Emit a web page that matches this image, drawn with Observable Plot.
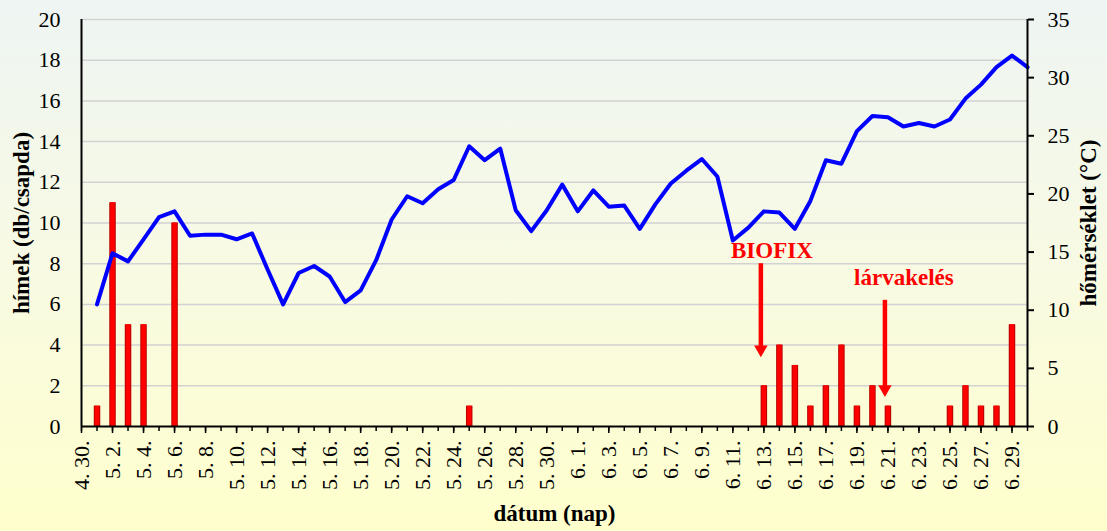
<!DOCTYPE html>
<html><head><meta charset="utf-8">
<script src="https://cdn.jsdelivr.net/npm/d3@7"></script>
<script src="https://cdn.jsdelivr.net/npm/@observablehq/plot@0.6"></script>
<style>
html,body{margin:0;padding:0;}
body{width:1107px;height:531px;overflow:hidden;background:linear-gradient(to bottom,#eef5f3 0%,#f8fae3 50%,#ffffcc 100%);font-family:"Liberation Serif",serif;}
svg{background:transparent !important;}
</style></head><body><div id="chart"></div>
<script>
// category axis: daily dates
const days = ["4. 30.",
 "5. 1.","5. 2.","5. 3.","5. 4.","5. 5.","5. 6.","5. 7.","5. 8.","5. 9.","5. 10.",
 "5. 11.","5. 12.","5. 13.","5. 14.","5. 15.","5. 16.","5. 17.","5. 18.","5. 19.","5. 20.",
 "5. 21.","5. 22.","5. 23.","5. 24.","5. 25.","5. 26.","5. 27.","5. 28.","5. 29.","5. 30.","5. 31.",
 "6. 1.","6. 2.","6. 3.","6. 4.","6. 5.","6. 6.","6. 7.","6. 8.","6. 9.","6. 10.",
 "6. 11.","6. 12.","6. 13.","6. 14.","6. 15.","6. 16.","6. 17.","6. 18.","6. 19.","6. 20.",
 "6. 21.","6. 22.","6. 23.","6. 24.","6. 25.","6. 26.","6. 27.","6. 28.","6. 29.","6. 30."];
// tick labels (every other day)
const tickDays = ["4. 30.","5. 2.","5. 4.","5. 6.","5. 8.","5. 10.","5. 12.","5. 14.","5. 16.","5. 18.",
 "5. 20.","5. 22.","5. 24.","5. 26.","5. 28.","5. 30.","6. 1.","6. 3.","6. 5.","6. 7.","6. 9.",
 "6. 11.","6. 13.","6. 15.","6. 17.","6. 19.","6. 21.","6. 23.","6. 25.","6. 27.","6. 29."];
// daily temperature (°C), none on 4.30.
const temperature = [null,
 10.5,14.9,14.2,16.1,18.0,18.5,16.4,16.5,16.5,16.1,
 16.6,13.5,10.5,13.2,13.8,12.9,10.7,11.7,14.3,17.8,
 19.8,19.2,20.4,21.2,24.1,22.9,23.9,18.6,16.8,18.6,20.8,
 18.5,20.3,18.9,19.0,17.0,19.1,20.9,22.0,23.0,21.5,
 16.0,17.1,18.5,18.4,17.0,19.4,22.9,22.6,25.4,26.7,
 26.6,25.8,26.1,25.8,26.4,28.2,29.4,30.9,31.9,30.9];
// trap catches (males / trap)
const barDays = ["5. 1.","5. 2.","5. 3.","5. 4.","5. 6.","5. 25.","6. 13.","6. 14.","6. 15.","6. 16.",
 "6. 17.","6. 18.","6. 19.","6. 20.","6. 21.","6. 25.","6. 26.","6. 27.","6. 28.","6. 29."];
const males = [1,11,5,5,10,1,2,4,3,1,2,4,1,2,1,1,2,1,1,5];
const leftTicks = [0,2,4,6,8,10,12,14,16,18,20];
const rightTicks = [0,5,10,15,20,25,30,35];
const tempPerUnit = 35 / 20;
// annotations
const annotLabels = ["BIOFIX","lárvakelés"];
const annotDays = ["6. 13.","6. 21."];
const annotTextY = [8.3, 6.95];
const arrowTop = [8.0, 6.2];
const arrowTip = [3.4, 1.45];

const lineData = days.map((d,i)=>({day:d, t:temperature[i]}));
const barData = barDays.map((d,i)=>({day:d, v:males[i]}));
const annot = annotLabels.map((l,i)=>({label:l, day:annotDays[i], ty:annotTextY[i], top:arrowTop[i], tip:arrowTip[i]}));

const red = "#ff0000";
const chart = Plot.plot({
  width: 1107, height: 531,
  marginLeft: 81, marginRight: 80, marginTop: 19, marginBottom: 105,
  style: {background: "transparent", fontFamily: "Liberation Serif, serif", color: "black"},
  x: {type: "point", domain: days, padding: 0},
  y: {domain: [0, 20]},
  marks: [
    Plot.gridY({ticks: leftTicks.slice(1), stroke: "#d2d2d2", strokeOpacity: 1, strokeWidth: 1.5}),
    Plot.ruleX(barData, {x: "day", y1: 0, y2: "v", stroke: "#b80000", strokeWidth: 6.5}),
    Plot.ruleX(barData, {x: "day", y1: 0, y2: "v", stroke: red, strokeWidth: 4.5, insetTop: 1}),
    Plot.line(lineData, {x: "day", y: d => d.t == null ? null : d.t / tempPerUnit, stroke: "#0000ff", strokeWidth: 4}),
    // axis lines
    Plot.ruleY([0], {stroke: "black", strokeWidth: 2}),
    Plot.ruleX([days[0], days[days.length-1]], {stroke: "black", strokeWidth: 2}),
    Plot.axisY({ticks: leftTicks, tickSize: 0, tickPadding: 21, fontSize: 22, label: null}),
    Plot.axisY({anchor: "right", ticks: rightTicks.map(t => t / tempPerUnit), tickFormat: d => Math.round(d * tempPerUnit), tickSize: 6, tickPadding: 14, fontSize: 22, strokeWidth: 2, label: null}),
    Plot.axisX({ticks: days, tickSize: 5, tickFormat: () => "", strokeWidth: 1.5, label: null}),
    Plot.axisX({ticks: tickDays, tickSize: 7, tickPadding: 7, tickRotate: -90, fontSize: 22, strokeWidth: 1.5, label: null}),
    // annotations
    Plot.ruleX(annot, {x: "day", y1: "top", y2: d => d.tip + 0.4, stroke: red, strokeWidth: 4.5, dx: -3}),
    Plot.dot(annot, {x: "day", y: "tip", symbol: "triangle", rotate: 180, r: 5, fill: red, stroke: "none", dx: -3, dy: -7.8}),
    Plot.text(annot.slice(0,1), {x: "day", y: "ty", text: "label", fill: red, fontWeight: "bold", fontSize: 23, lineAnchor: "bottom", dx: 8}),
    Plot.text(annot.slice(1), {x: "day", y: "ty", text: "label", fill: red, fontWeight: "bold", fontSize: 23, lineAnchor: "bottom", dx: 16}),
    // axis titles
    Plot.text(["hímek (db/csapda)"], {frameAnchor: "left", text: d => d, dx: -60, rotate: -90, textAnchor: "middle", lineAnchor: "middle", fontWeight: "bold", fontSize: 23}),
    Plot.text(["hőmérséklet (°C)"], {frameAnchor: "right", text: d => d, dx: 61, rotate: -90, textAnchor: "middle", lineAnchor: "middle", fontWeight: "bold", fontSize: 23}),
    Plot.text(["dátum (nap)"], {frameAnchor: "bottom", text: d => d, dy: 87, textAnchor: "middle", lineAnchor: "middle", fontWeight: "bold", fontSize: 23})
  ]
});
document.getElementById("chart").appendChild(chart);
</script></body></html>
